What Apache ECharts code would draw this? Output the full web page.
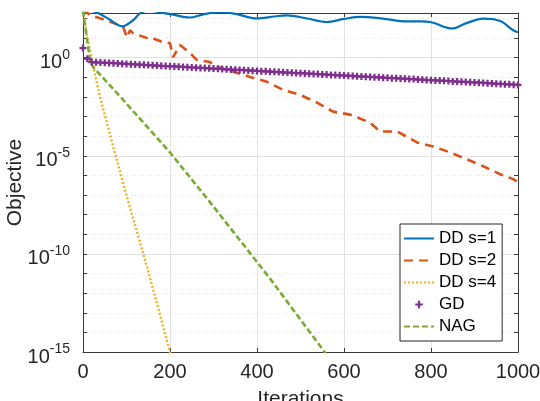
<!DOCTYPE html>
<html>
<head>
<meta charset="utf-8">
<script src="https://cdn.jsdelivr.net/npm/echarts@6/dist/echarts.min.js"></script>
<style>html,body{margin:0;padding:0;background:#fff}#c{width:540px;height:401px}</style>
</head>
<body>
<div id="c"></div>
<script>
// ---- data ----
const xTicks = [0, 200, 400, 600, 800, 1000];
const yTickExponents = [-15, -10, -5, 0];

const dd1Iter = [0, 20, 35, 60, 90, 115, 131, 150, 180, 207, 245, 275, 315, 353, 399, 440, 468, 515, 560, 600, 637, 680, 729, 770, 798, 848, 880, 920, 959, 989, 1000];
const dd1Val  = [398, 251, 190, 91, 40, 81, 182, 251, 200, 158, 112, 158, 214, 166, 100, 126, 145, 100, 66, 95, 120, 105, 74, 71, 66, 31, 56, 98, 74, 25, 20];

const dd2Iter = [0, 16, 39, 60, 78, 92, 101, 108, 115, 147, 154, 184, 200, 207, 223, 246, 262, 292, 299, 331, 384, 423, 460, 499, 538, 575, 614, 660, 683, 722, 768, 805, 844, 883, 920, 959, 989, 1000];
const dd2Val  = [316, 145, 102, 71, 50, 40, 10.7, 25, 17.8, 10, 11.2, 6.2, 5.5, 1.07, 4.4, 1.74, 0.76, 0.60, 0.43, 0.24, 0.105, 0.059, 0.023, 0.0129, 0.0051, 0.00178, 0.00126, 4.9e-4, 1.74e-4, 1.74e-4, 4.8e-5, 3.0e-5, 1.48e-5, 6.6e-6, 2.95e-6, 1.15e-6, 6.5e-7, 4.5e-7];

const dd4Iter = [0, 10, 21, 30, 39, 69, 101, 131, 160, 200, 210];
const dd4Val  = [251, 10, 0.76, 0.079, 0.0102, 3.2e-5, 7.9e-8, 4.0e-10, 2.0e-12, 1e-15, 1.6e-16];

const gdIter = [0, 10, 20, 30, 40, 50, 60, 70, 80, 90, 100, 110, 120, 130, 140, 150, 160, 170, 180, 190, 200, 210, 220, 230, 240, 250, 260, 270, 280, 290, 300, 310, 320, 330, 340, 350, 360, 370, 380, 390, 400, 410, 420, 430, 440, 450, 460, 470, 480, 490, 500, 510, 520, 530, 540, 550, 560, 570, 580, 590, 600, 610, 620, 630, 640, 650, 660, 670, 680, 690, 700, 710, 720, 730, 740, 750, 760, 770, 780, 790, 800, 810, 820, 830, 840, 850, 860, 870, 880, 890, 900, 910, 920, 930, 940, 950, 960, 970, 980, 990, 1000];
const gdVal  = [3.1, 0.89, 0.600, 0.584, 0.570, 0.553, 0.540, 0.523, 0.510, 0.495, 0.483, 0.469, 0.457, 0.444, 0.433, 0.420, 0.410, 0.398, 0.388, 0.377, 0.368, 0.357, 0.348, 0.338, 0.330, 0.320, 0.312, 0.303, 0.296, 0.287, 0.280, 0.271, 0.265, 0.257, 0.251, 0.243, 0.238, 0.230, 0.225, 0.218, 0.213, 0.206, 0.202, 0.195, 0.191, 0.185, 0.181, 0.175, 0.171, 0.166, 0.162, 0.157, 0.154, 0.149, 0.146, 0.141, 0.138, 0.133, 0.131, 0.126, 0.124, 0.120, 0.117, 0.113, 0.111, 0.107, 0.105, 0.102, 0.100, 0.096, 0.095, 0.091, 0.090, 0.086, 0.085, 0.082, 0.081, 0.077, 0.076, 0.073, 0.072, 0.069, 0.068, 0.066, 0.065, 0.062, 0.061, 0.059, 0.058, 0.056, 0.055, 0.053, 0.052, 0.050, 0.049, 0.047, 0.046, 0.045, 0.044, 0.042, 0.041];

const nagIter = [0, 16, 23, 92, 200, 299, 430, 552, 570];
const nagVal  = [251, 0.76, 0.34, 7.2e-3, 1.48e-5, 2.75e-8, 5.5e-12, 1.26e-15, 3.2e-16];

const seriesNames = ['DD s=1', 'DD s=2', 'DD s=4', 'GD', 'NAG'];

// ---- chart ----
function pairs(xs, ys) { return xs.map((x, i) => [x, ys[i]]); }
const FONT = 'Liberation Sans, Arial, Helvetica, sans-serif';
const TXT = '#262626';
const AX = '#3a3a3a';
const yMin = 1e-15, yMax = 190;
const noSym = {color: 'rgba(0,0,0,0)', borderColor: 'rgba(0,0,0,0)', borderWidth: 0};

const chart = echarts.init(document.getElementById('c'), null, {renderer: 'canvas'});
chart.setOption({
  animation: false,
  backgroundColor: '#fff',
  textStyle: {fontFamily: FONT},
  grid: {left: 83, right: 22, top: 13, bottom: 49, show: false, containLabel: false, outerBoundsMode: 'none'},
  legend: {
    orient: 'vertical', left: 400, top: 224,
    itemWidth: 30, itemHeight: 14, itemGap: 5,
    padding: [6, 6, 6, 3],
    backgroundColor: '#fff', borderColor: '#262626', borderWidth: 1,
    textStyle: {fontSize: 17, color: '#000', fontFamily: FONT, lineHeight: 16},
    data: [
      {name: seriesNames[0], itemStyle: noSym},
      {name: seriesNames[1], itemStyle: noSym},
      {name: seriesNames[2], itemStyle: noSym},
      {name: seriesNames[3], icon: 'path://M0,0M20,20M8.4,4.6H11.6V8.4H15.4V11.6H11.6V15.4H8.4V11.6H4.6V8.4H8.4Z'},
      {name: seriesNames[4], itemStyle: noSym}
    ]
  },
  xAxis: [
    {
      type: 'value', position: 'bottom', min: xTicks[0], max: xTicks[xTicks.length - 1], interval: 200,
      axisLine: {show: true, onZero: false, lineStyle: {color: AX, width: 1}},
      axisTick: {show: true, inside: true, length: 4, lineStyle: {color: AX}},
      axisLabel: {fontSize: 20, color: TXT, margin: 10, fontFamily: FONT, formatter: v => String(v)},
      splitLine: {show: true, lineStyle: {color: '#e2e2e2', width: 1}},
      name: 'Iterations', nameLocation: 'middle', nameGap: 37,
      nameTextStyle: {fontSize: 21, color: TXT, fontFamily: FONT}
    },
    {
      type: 'value', position: 'top', min: xTicks[0], max: xTicks[xTicks.length - 1], interval: 200,
      axisLine: {show: true, onZero: false, lineStyle: {color: AX, width: 1}},
      axisTick: {show: true, inside: true, length: 4, lineStyle: {color: AX}},
      axisLabel: {show: false}, splitLine: {show: false}
    }
  ],
  yAxis: [
    {
      type: 'log', logBase: 10, position: 'left', min: yMin, max: yMax, interval: 5,
      axisLine: {show: true, onZero: false, lineStyle: {color: AX, width: 1}},
      axisTick: {show: false},
      axisLabel: {
        show: true, margin: 13, showMaxLabel: false,
        formatter: function (v) {
          const l = Math.log10(v), e = Math.round(l);
          if (Math.abs(l - e) > 1e-6 || yTickExponents.indexOf(e) < 0) return '';
          return '{b|10}{s|' + e + '}';
        },
        rich: {
          b: {fontSize: 20, color: TXT, fontFamily: FONT, lineHeight: 20, padding: [10, 0, 0, 0]},
          s: {fontSize: 14, color: TXT, fontFamily: FONT, lineHeight: 20, verticalAlign: 'top'}
        }
      },
      splitLine: {show: true, lineStyle: {color: '#e2e2e2', width: 1}},
      name: 'Objective', nameLocation: 'middle', nameGap: 57, nameMoveOverlap: false,
      nameTextStyle: {fontSize: 21, color: TXT, fontFamily: FONT}
    },
    {
      type: 'log', logBase: 10, position: 'left', min: yMin, max: yMax, interval: 1,
      axisLine: {show: false}, axisLabel: {show: false},
      axisTick: {show: true, inside: true, length: 4, lineStyle: {color: AX}},
      splitLine: {show: true, lineStyle: {color: '#dedede', width: 1, type: [1, 3]}}
    },
    {
      type: 'log', logBase: 10, position: 'right', min: yMin, max: yMax, interval: 1,
      axisLine: {show: true, onZero: false, lineStyle: {color: AX, width: 1}},
      axisLabel: {show: false},
      axisTick: {show: true, inside: true, length: 4, lineStyle: {color: AX}},
      splitLine: {show: false}
    }
  ],
  series: [
    {
      name: seriesNames[0], type: 'line', data: pairs(dd1Iter, dd1Val), symbol: 'none', smooth: 0.35,
      lineStyle: {color: '#0072BD', width: 2.2}, itemStyle: {color: '#0072BD'}, clip: true, z: 5
    },
    {
      name: seriesNames[1], type: 'line', data: pairs(dd2Iter, dd2Val), symbol: 'none',
      lineStyle: {color: '#D95319', width: 2.6, type: [9, 6]}, itemStyle: {color: '#D95319'}, clip: true, z: 4
    },
    {
      name: seriesNames[2], type: 'line', data: pairs(dd4Iter, dd4Val), symbol: 'none',
      lineStyle: {color: '#EDB120', width: 2.4, type: [2, 2]}, itemStyle: {color: '#EDB120'}, clip: true, z: 3
    },
    {
      name: seriesNames[3], type: 'scatter', data: pairs(gdIter, gdVal),
      symbol: 'path://M3.4,0H6.6V3.4H10V6.6H6.6V10H3.4V6.6H0V3.4H3.4Z', symbolSize: 7,
      itemStyle: {color: '#7E2F8E', opacity: 1}, clip: true, z: 6
    },
    {
      name: seriesNames[4], type: 'line', data: pairs(nagIter, nagVal), symbol: 'none',
      lineStyle: {color: '#77AC30', width: 2.6, type: [6, 3]}, itemStyle: {color: '#77AC30'}, clip: true, z: 3
    }
  ]
});
</script>
</body>
</html>
